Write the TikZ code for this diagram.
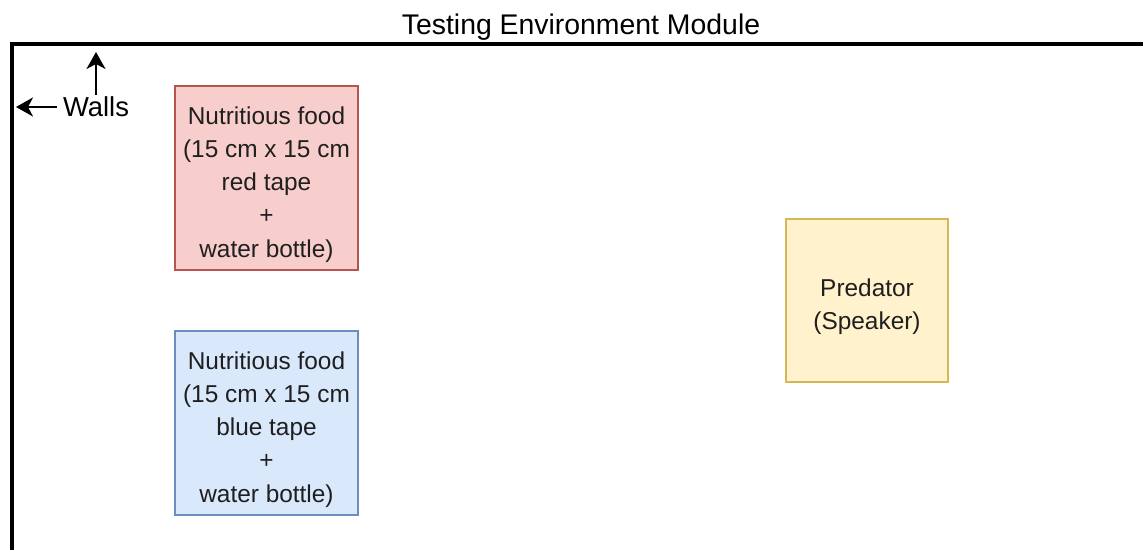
\documentclass[tikz,border=0pt]{standalone}
\usepackage{fontspec}
\setmainfont{Liberation Sans}
\usetikzlibrary{arrows.meta}
\definecolor{redfill}{HTML}{F8CECC}
\definecolor{redline}{HTML}{B85450}
\definecolor{bluefill}{HTML}{DAE8FC}
\definecolor{blueline}{HTML}{6C8EBF}
\definecolor{yelfill}{HTML}{FFF2CC}
\definecolor{yelline}{HTML}{D6B656}
\definecolor{txt}{HTML}{1F1F1F}
\tikzset{
  box/.style={draw, line width=0.75pt, inner sep=0pt},
  boxtxt/.style={inner sep=0pt, align=center, text=txt, yshift=-3.2pt,
    font=\fontsize{12.2}{16.6}\selectfont},
  wall/.style={line width=2pt, line cap=rect},
  arr/.style={line width=1pt, -{Stealth[length=8.5pt,width=9.5pt,inset=2.5pt]}},
  lbl/.style={text=black, inner sep=3pt}
}
\begin{document}
\begin{tikzpicture}[x=0.5pt,y=-0.5pt]
\useasboundingbox (0,0) rectangle (1143,550);
% walls
\coordinate (wtl) at (11.5,44.5);
\coordinate (wtr) at (1150,44.5);
\coordinate (wbl) at (11.5,560);
\draw[wall] (wtr) -- (wtl) -- (wbl);
% title
\node[lbl, anchor=base, font=\fontsize{14.2}{16}\selectfont] (title) at (581,35) {Testing Environment Module};
% walls label
\node[lbl, anchor=base, font=\fontsize{13.7}{16}\selectfont, inner ysep=1pt] (walls) at (96,117) {Walls};
\coordinate (uptip) at (96,52);
\coordinate (lefttip) at (16,107);
\draw[arr] (walls.north) -- (uptip);
\draw[arr] (walls.west |- lefttip) -- (lefttip);
% boxes
\node[box, fill=redfill, draw=redline, minimum width=91.5pt, minimum height=92pt] (red) at (266.5,178) {};
\node[boxtxt] (redtext) at (red.center) {Nutritious food\\(15 cm x 15 cm\\red tape\\+\\water bottle)};
\node[box, fill=bluefill, draw=blueline, minimum width=91.5pt, minimum height=92pt] (blue) at (266.5,423) {};
\node[boxtxt] (bluetext) at (blue.center) {Nutritious food\\(15 cm x 15 cm\\blue tape\\+\\water bottle)};
\node[box, fill=yelfill, draw=yelline, minimum width=81pt, minimum height=81.5pt] (pred) at (867,300.5) {};
\node[boxtxt] (predtext) at (pred.center) {Predator\\(Speaker)};
\end{tikzpicture}
\end{document}
